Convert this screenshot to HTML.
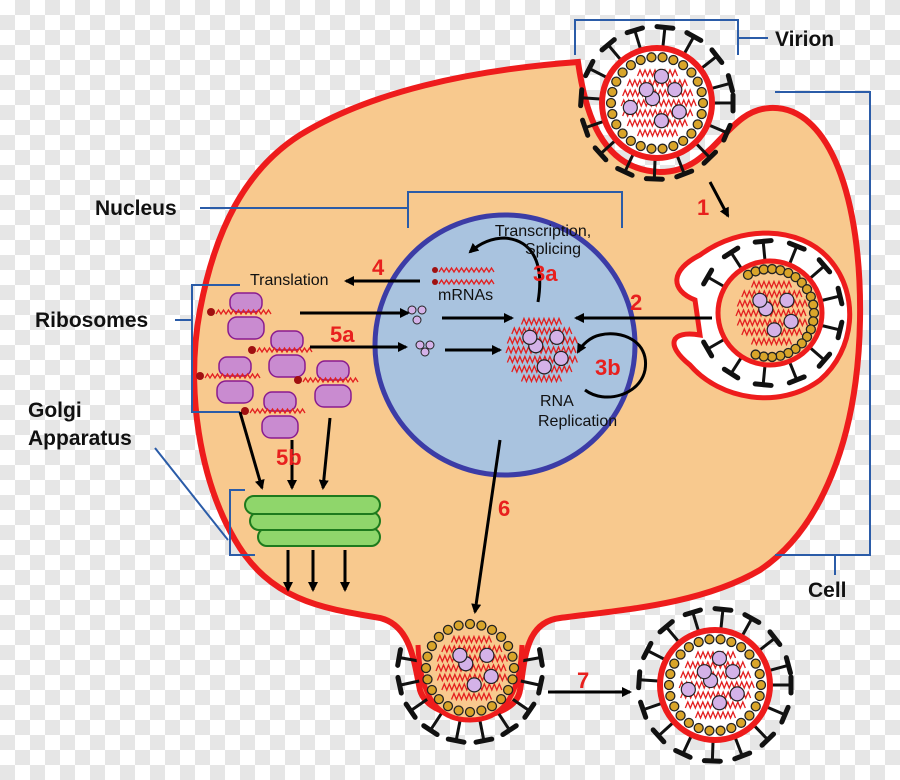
<!DOCTYPE html><html><head><meta charset="utf-8"><style>
html,body{margin:0;padding:0}
body{width:900px;height:780px;overflow:hidden;background-color:#fff;background-image:linear-gradient(45deg,#e6e6e6 25%,transparent 25%,transparent 75%,#e6e6e6 75%),linear-gradient(45deg,#e6e6e6 25%,transparent 25%,transparent 75%,#e6e6e6 75%);background-size:30px 30px;background-position:0 0,15px 15px}
svg{position:absolute;left:0;top:0}
text{font-family:"Liberation Sans",sans-serif}
.lb{font-weight:bold;font-size:21px;fill:#111}
.rd{font-weight:bold;font-size:22px;fill:#e8201e}
.sm{font-size:16px;fill:#111}
</style></head><body>
<svg id="s" width="900" height="780" viewBox="0 0 900 780">
<defs><marker id="a" markerWidth="10" markerHeight="10" refX="8" refY="5" orient="auto" markerUnits="userSpaceOnUse"><path d="M0,0 L10,5 L0,10 Z" fill="#000"/></marker></defs>
<path d="M578,62 C585,110 600,170 660,172 C715,172 725,110 770,108 C830,105 862,200 860,320 C858,440 820,530 760,570 C700,605 620,610 560,618 C525,622 525,660 520,690 C515,725 430,725 420,690 C414,660 410,625 380,618 C320,608 270,600 235,540 C200,480 185,390 200,310 C215,230 245,170 300,135 C370,92 470,70 578,62 Z" fill="#f8c98e" stroke="#ee1c1c" stroke-width="6"/>
<g id="g"></g>
<circle cx="505" cy="345" r="130" fill="#a9c3df" stroke="#3c3ca6" stroke-width="5"/>
<g stroke="#1d7a1d" stroke-width="2" fill="#8fd66b">
<rect x="258" y="528" width="122" height="18" rx="9"/>
<rect x="250" y="512" width="130" height="18" rx="9"/>
<rect x="245" y="496" width="135" height="18" rx="9"/>
</g>
<g id="g2"></g>
<g stroke="#2b5ca8" stroke-width="2" fill="none">
<path d="M575,55 V20 H738 V55 M738,38 H768"/>
<path d="M775,92 H870 V555 H775 M835,555 V575"/>
<path d="M200,208 H408 M408,228 V192 H622 V228"/>
<path d="M175,320 H192 M240,285 H192 V412 H240"/>
<path d="M155,448 L228,540 M245,490 H230 V555 H255"/>
</g>
<g stroke="#000" stroke-width="3" fill="none">
<line x1="710" y1="182" x2="728" y2="216" marker-end="url(#a)"/>
<line x1="712" y1="318" x2="576" y2="318" marker-end="url(#a)"/>
<line x1="420" y1="281" x2="346" y2="281" marker-end="url(#a)"/>
<line x1="300" y1="313" x2="408" y2="313" marker-end="url(#a)"/>
<line x1="310" y1="347" x2="406" y2="347" marker-end="url(#a)"/>
<line x1="442" y1="318" x2="512" y2="318" marker-end="url(#a)"/>
<line x1="445" y1="350" x2="500" y2="350" marker-end="url(#a)"/>
<path d="M538,302 C545,260 530,240 505,238 C490,238 478,245 470,252" marker-end="url(#a)"/>
<path d="M585,390 C605,405 640,395 645,370 C650,340 620,330 600,335 C590,337 582,345 578,352" marker-end="url(#a)"/>
<line x1="500" y1="440" x2="475" y2="612" marker-end="url(#a)"/>
<line x1="240" y1="412" x2="262" y2="488" marker-end="url(#a)"/>
<line x1="292" y1="440" x2="292" y2="488" marker-end="url(#a)"/>
<line x1="330" y1="418" x2="323" y2="488" marker-end="url(#a)"/>
<line x1="288" y1="550" x2="288" y2="590" marker-end="url(#a)"/>
<line x1="313" y1="550" x2="313" y2="590" marker-end="url(#a)"/>
<line x1="345" y1="550" x2="345" y2="590" marker-end="url(#a)"/>
<line x1="548" y1="692" x2="630" y2="692" marker-end="url(#a)"/>
</g>
<text class="lb" x="775" y="46">Virion</text>
<text class="lb" x="95" y="215">Nucleus</text>
<text class="lb" x="35" y="327">Ribosomes</text>
<text class="lb" x="28" y="417">Golgi</text>
<text class="lb" x="28" y="445">Apparatus</text>
<text class="lb" x="808" y="597">Cell</text>
<text class="rd" x="697" y="215">1</text>
<text class="rd" x="630" y="310">2</text>
<text class="rd" x="533" y="281">3a</text>
<text class="rd" x="595" y="375">3b</text>
<text class="rd" x="372" y="275">4</text>
<text class="rd" x="330" y="342">5a</text>
<text class="rd" x="276" y="465">5b</text>
<text class="rd" x="498" y="516">6</text>
<text class="rd" x="577" y="688">7</text>
<text class="sm" x="543" y="236" text-anchor="middle">Transcription,</text>
<text class="sm" x="553" y="254" text-anchor="middle">Splicing</text>
<text class="sm" x="438" y="300">mRNAs</text>
<text class="sm" x="250" y="285">Translation</text>
<text class="sm" x="540" y="406">RNA</text>
<text class="sm" x="538" y="426">Replication</text>
</svg>
<script>
var NS="http://www.w3.org/2000/svg";
function el(p,t,a){var e=document.createElementNS(NS,t);for(var k in a)e.setAttribute(k,a[k]);p.appendChild(e);return e;}
var g=document.getElementById('g'),g2=document.getElementById('g2');
function wave(p,x,y,w,amp){amp=amp||4;var d="M"+x+","+y;for(var i=0;i<w;i+=5){d+=" l2.5,-"+amp+" l2.5,"+amp;}el(p,'path',{d:d,stroke:'#e32020','stroke-width':1.3,fill:'none'});}
function core(p,cx,cy,r){
 for(var j=-3;j<=3;j++){var yy=j*r/4;var hw=Math.sqrt(Math.max(0,r*r*0.8-yy*yy));wave(p,cx-hw,cy+yy+3,hw*2,6);}
 var pts=[[-25,-22],[5,-30],[20,-15],[-30,5],[-5,-5],[25,10],[-20,25],[5,20],[-12,-15],[15,30]];
 pts.forEach(function(q){if(Math.hypot(q[0],q[1])<r-8)el(p,'circle',{cx:cx+q[0]*r/45,cy:cy+q[1]*r/45,r:7,fill:'#d4b2e8',stroke:'#222','stroke-width':1.2});});
}
function spikes(p,cx,cy,r0,r1,a0,a1,n){for(var i=0;i<n;i++){var a=(a0+(a1-a0)*i/(n-1))*Math.PI/180;var c=Math.cos(a),s=Math.sin(a);
 el(p,'line',{x1:cx+c*r0,y1:cy+s*r0,x2:cx+c*r1,y2:cy+s*r1,stroke:'#111','stroke-width':3});
 el(p,'line',{x1:cx+c*r1-s*8,y1:cy+s*r1+c*8,x2:cx+c*r1+s*8,y2:cy+s*r1-c*8,stroke:'#111','stroke-width':5,'stroke-linecap':'round'});}}
function beads(p,cx,cy,r,a0,a1,n){for(var i=0;i<n;i++){var a=(a0+(a1-a0)*i/n)*Math.PI/180;el(p,'circle',{cx:cx+Math.cos(a)*r,cy:cy+Math.sin(a)*r,r:4.5,fill:'#d9a52a',stroke:'#222','stroke-width':1.3});}}
function virion(p,cx,cy,fill){
 spikes(p,cx,cy,55,76,0,345,16);
 el(p,'circle',{cx:cx,cy:cy,r:55,fill:fill,stroke:'#ee1c1c','stroke-width':6});
 beads(p,cx,cy,46,0,360,26);core(p,cx,cy,40);
}
virion(g,657,103,'#fff');
el(g,'path',{d:"M695,300 C670,290 670,270 700,255 C740,225 800,225 830,260 C860,295 855,350 820,380 C780,410 720,400 690,365 C665,345 670,330 700,335 Z",fill:'#fff',stroke:'#ee1c1c','stroke-width':5});
spikes(g,770,313,52,72,-150,150,12);
el(g,'circle',{cx:770,cy:313,r:52,fill:'#f8c98e',stroke:'#ee1c1c','stroke-width':5});
beads(g,770,313,44,-120,120,22);core(g,770,313,38);
spikes(g,470,670,52,72,-10,190,10);
el(g,'path',{d:"M418,645 C420,700 440,720 470,720 C500,720 520,700 522,645",fill:'#f8c98e',stroke:'#ee1c1c','stroke-width':5});
beads(g,470,668,44,0,360,24);core(g,470,668,38);
virion(g,715,685,'#fff');
[[246,313],[287,351],[235,377],[280,412],[333,381]].forEach(function(q){var x=q[0],y=q[1];
 el(g2,'rect',{x:x-16,y:y-20,width:32,height:19,rx:8,fill:'#c98bd0',stroke:'#8a1b8f','stroke-width':1.5});
 el(g2,'rect',{x:x-18,y:y+4,width:36,height:22,rx:9,fill:'#c98bd0',stroke:'#8a1b8f','stroke-width':1.5});
 el(g2,'circle',{cx:x-35,cy:y-1,r:4,fill:'#a01010'});wave(g2,x-30,y+1,55,4);});
[[435,270],[435,282]].forEach(function(q){el(g2,'circle',{cx:q[0],cy:q[1],r:3,fill:'#a01010'});wave(g2,q[0]+4,q[1]+2,55,4);});
[[412,310],[422,310],[417,320],[420,345],[430,345],[425,352]].forEach(function(q){el(g2,'circle',{cx:q[0],cy:q[1],r:4,fill:'#d4b2e8',stroke:'#222'});});
var gc=el(g2,'g',{});core(gc,540,350,38);
</script>
</body></html>
